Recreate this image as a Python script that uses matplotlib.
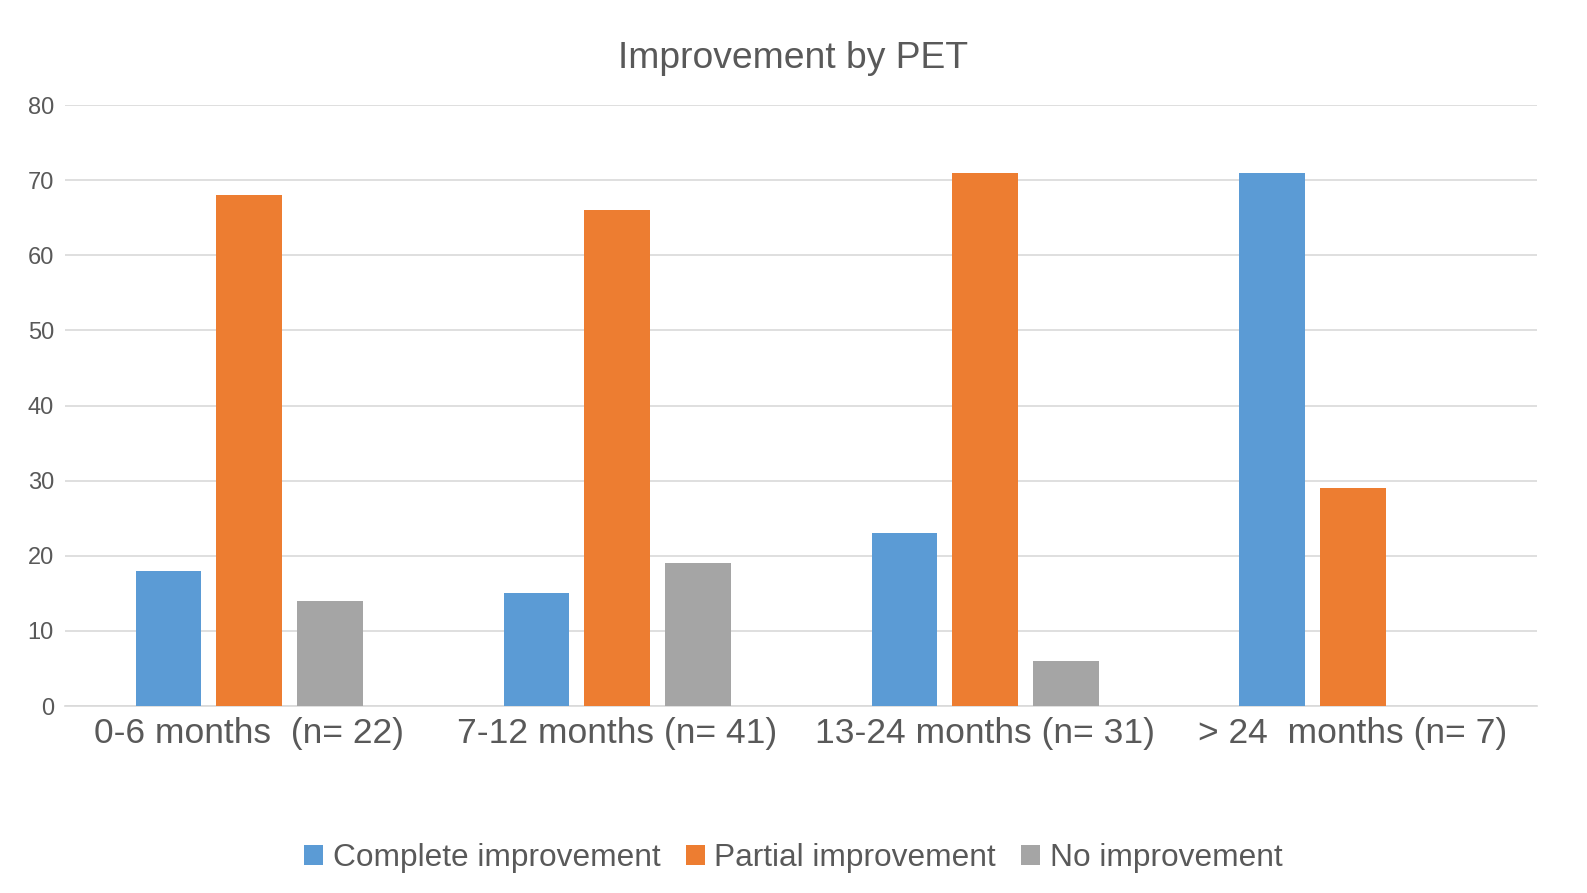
import numpy as np
import matplotlib.pyplot as plt
from matplotlib.patches import Patch

plt.rcParams['font.family'] = ['Liberation Sans', 'DejaVu Sans']

# Data
categories = ["0-6 months  (n= 22)", "7-12 months (n= 41)",
              "13-24 months (n= 31)", "> 24  months (n= 7)"]
complete = [18, 15, 23, 71]
partial = [68, 66, 71, 29]
none = [14, 19, 6, 0]

series = ["Complete improvement", "Partial improvement", "No improvement"]
colors = ["#5B9BD5", "#ED7D31", "#A5A5A5"]

x = np.arange(len(categories))
width = 0.177
step = 0.22

fig = plt.figure(figsize=(15.87, 8.93), dpi=100)
ax = fig.add_axes([0.041, 0.2094, 0.9275, 0.673])

for i, (vals, col) in enumerate(zip([complete, partial, none], colors)):
    ax.bar(x + (i - 1) * step, vals, width, color=col, zorder=3)

ax.set_xlim(-0.5, 3.5)
ax.set_ylim(0, 80)
ax.set_yticks(np.arange(0, 81, 10))
ax.yaxis.grid(True, color="#D9D9D9", linewidth=1.2, zorder=0)
ax.set_xticks(x)
ax.set_xticklabels(categories, fontsize=25.5, color="#595959")
ax.tick_params(axis="y", labelsize=17, labelcolor="#595959", length=0, pad=8)
ax.tick_params(axis="x", length=0, pad=8)

for s in ["top", "right", "left"]:
    ax.spines[s].set_visible(False)
ax.spines["bottom"].set_color("#D9D9D9")
ax.spines["bottom"].set_linewidth(1.2)

fig.text(0.5, 1 - 58 / 893, "Improvement by PET", ha="center", va="center",
         fontsize=26.8, color="#595959")

handles = [Patch(facecolor=c, edgecolor="none") for c in colors]
fig.legend(handles, series, loc="center", bbox_to_anchor=(0.5, 1 - 858 / 893),
           ncol=3, frameon=False, fontsize=22.8, labelcolor="#595959",
           handlelength=0.6, handleheight=0.6, handletextpad=0.3,
           columnspacing=0.8)

fig.savefig("out.png", dpi=100)
